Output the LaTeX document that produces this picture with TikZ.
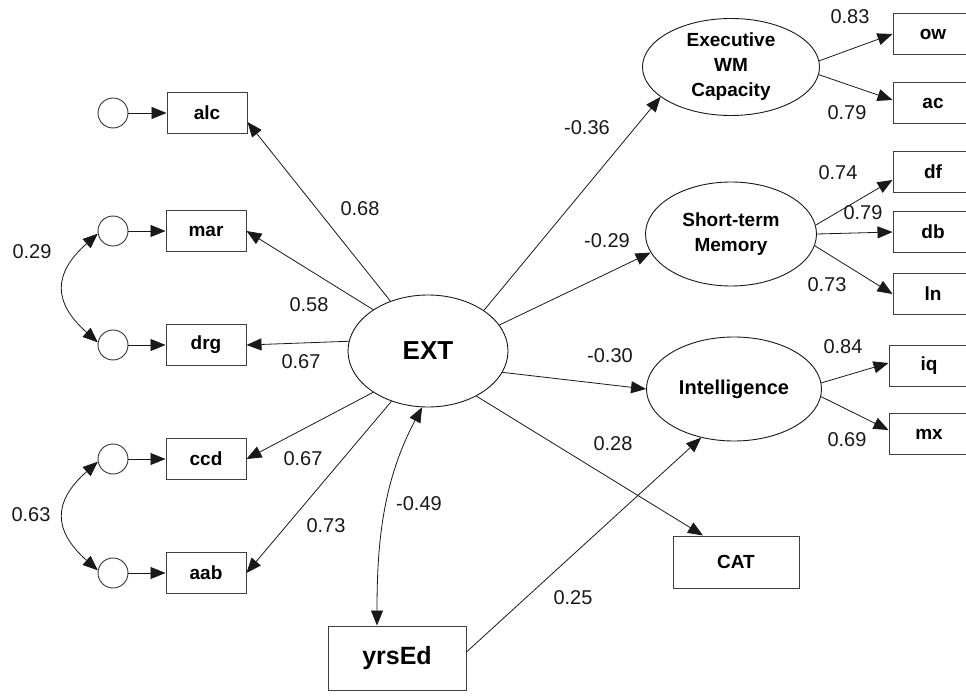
\documentclass[tikz,border=0pt]{standalone}
\usepackage{fontspec}
\setmainfont{Liberation Sans}
\usetikzlibrary{shapes.geometric,arrows.meta,calc}

\tikzset{
  every picture/.style={line join=miter},
  obs/.style={draw=black!75, line width=1pt, rectangle, minimum width=80pt,
              minimum height=41pt, inner sep=0pt, fill=white,
              font=\bfseries\fontsize{19}{23}\selectfont},
  bigobs/.style={obs, minimum width=126pt, minimum height=52pt},
  latent/.style={draw=black!90, line width=0.9pt, ellipse, inner sep=0pt,
                 align=center, font=\bfseries\fontsize{19}{25}\selectfont},
  errc/.style={draw=black!80, line width=0.9pt, circle, minimum size=30pt, inner sep=0pt},
  path/.style={draw=black!90, line width=0.8pt, -{Triangle[length=15pt,width=12pt]}},
  cov/.style={draw=black!90, line width=0.8pt,
              {Triangle[length=15pt,width=12pt]}-{Triangle[length=15pt,width=12pt]}},
  lab/.style={inner sep=0pt, font=\fontsize{20}{24}\selectfont, text=black!90},
}

\begin{document}
\begin{tikzpicture}[x=1pt, y=-1pt]
\clip (0,0) rectangle (966,700);
\fill[white] (0,0) rectangle (966,700);

% central factor and its indicators
\node[latent, minimum width=160pt, minimum height=112pt,
      font=\bfseries\fontsize{26}{30}\selectfont] (ext) at (428,351) {EXT};

\node[obs] (alc) at (207,113) {alc};
\node[obs] (mar) at (206,231) {mar};
\node[obs] (drg) at (206,345) {drg};
\node[obs] (ccd) at (206,459) {ccd};
\node[obs] (aab) at (206,573) {aab};

\node[errc] (e1) at (113,113) {};
\node[errc] (e2) at (113,231) {};
\node[errc] (e3) at (113,345) {};
\node[errc] (e4) at (113,459) {};
\node[errc] (e5) at (113,573) {};

\foreach \e/\b in {e1/alc,e2/mar,e3/drg,e4/ccd,e5/aab}
  \draw[path] (\e) -- (\b);

% correlated residuals
\draw[cov] (e2.190) .. controls +(-45,40) and +(-45,-40) .. (e3.170);
\draw[cov] (e4.190) .. controls +(-45,40) and +(-45,-40) .. (e5.170);
\node[lab] (r29) at (32,252) {0.29};
\node[lab] (r63) at (31,515) {0.63};

% loadings of EXT
\draw[path] (ext.127) -- ($(alc.east)+(0,9)$);
\draw[path] (ext.143) -- (mar.east);
\draw[path] (ext.173) -- (drg.east);
\draw[path] (ext.217) -- (ccd.east);
\draw[path] (ext.234) -- (aab.east);
\node[lab] (l68) at (360,209) {0.68};
\node[lab] (l58) at (309,305) {0.58};
\node[lab] (l67a) at (301,362) {0.67};
\node[lab] (l67b) at (303,459) {0.67};
\node[lab] (l73) at (326,526) {0.73};

% outcome factors
\node[latent, minimum width=177pt, minimum height=97pt] (ewm) at (731,67)
  {Executive\\WM\\Capacity};
\node[latent, minimum width=171pt, minimum height=104pt] (stm) at (731,234)
  {Short-term\\Memory};
\node[latent, minimum width=175pt, minimum height=104pt,
      font=\bfseries\fontsize{20}{25}\selectfont] (int) at (734,389)
  {Intelligence};

\node[obs] (ow) at (933,34)  {ow};
\node[obs] (ac) at (933,103) {ac};
\node[obs] (df) at (933,172) {df};
\node[obs] (db) at (933,232) {db};
\node[obs] (ln) at (933,294) {ln};
\node[obs] (iq) at (929,366) {iq};
\node[obs] (mx) at (929,434) {mx};

\draw[path] (ewm.4.5) -- (ow.west);
\draw[path] (ewm.355.5) -- ($(ac.west)+(0,-3)$);
\draw[path] (stm.6.6) -- ($(df.west)+(0,8)$);
\draw[path] (stm.0) -- (db.west);
\draw[path] (stm.352.6) -- (ln.west);
\draw[path] (int.4.5) -- ($(iq.west)+(0,-3)$);
\draw[path] (int.355.5) -- ($(mx.west)+(0,-4)$);

\node[lab] (m83) at (850,17)  {0.83};
\node[lab] (m79a) at (847,113) {0.79};
\node[lab] (m74) at (838,173) {0.74};
\node[lab] (m79b) at (863,213) {0.79};
\node[lab] (m73) at (827,285) {0.73};
\node[lab] (m84) at (843,347) {0.84};
\node[lab] (m69) at (847,440) {0.69};

% structural paths
\draw[path] (ext.36) -- (ewm.203);
\draw[path] (ext.20) -- (stm.193.5);
\draw[path] (ext.344) -- (int.west);
\node[lab] (s36) at (587,128) {-0.36};
\node[lab] (s29) at (607,241) {-0.29};
\node[lab] (s30) at (610,356) {-0.30};

\node[bigobs] (cat) at (736,562) {CAT};
\draw[path] (ext.317) -- ($(cat.north)+(-33,0)$);
\node[lab] (s28) at (613,444) {0.28};

\node[obs, minimum width=138pt, minimum height=64pt,
      font=\bfseries\fontsize{25}{30}\selectfont] (yrs) at (397,658) {yrsEd};
\draw[cov] (ext.264) .. controls +(-40,75) and +(0,-80) .. ($(yrs.north)+(-20,0)$);
\node[lab] (s49) at (419,504) {-0.49};
\draw[path] ($(yrs.east)+(0,-6)$) -- (int.236);
\node[lab] (s25) at (573,598) {0.25};
\end{tikzpicture}
\end{document}
